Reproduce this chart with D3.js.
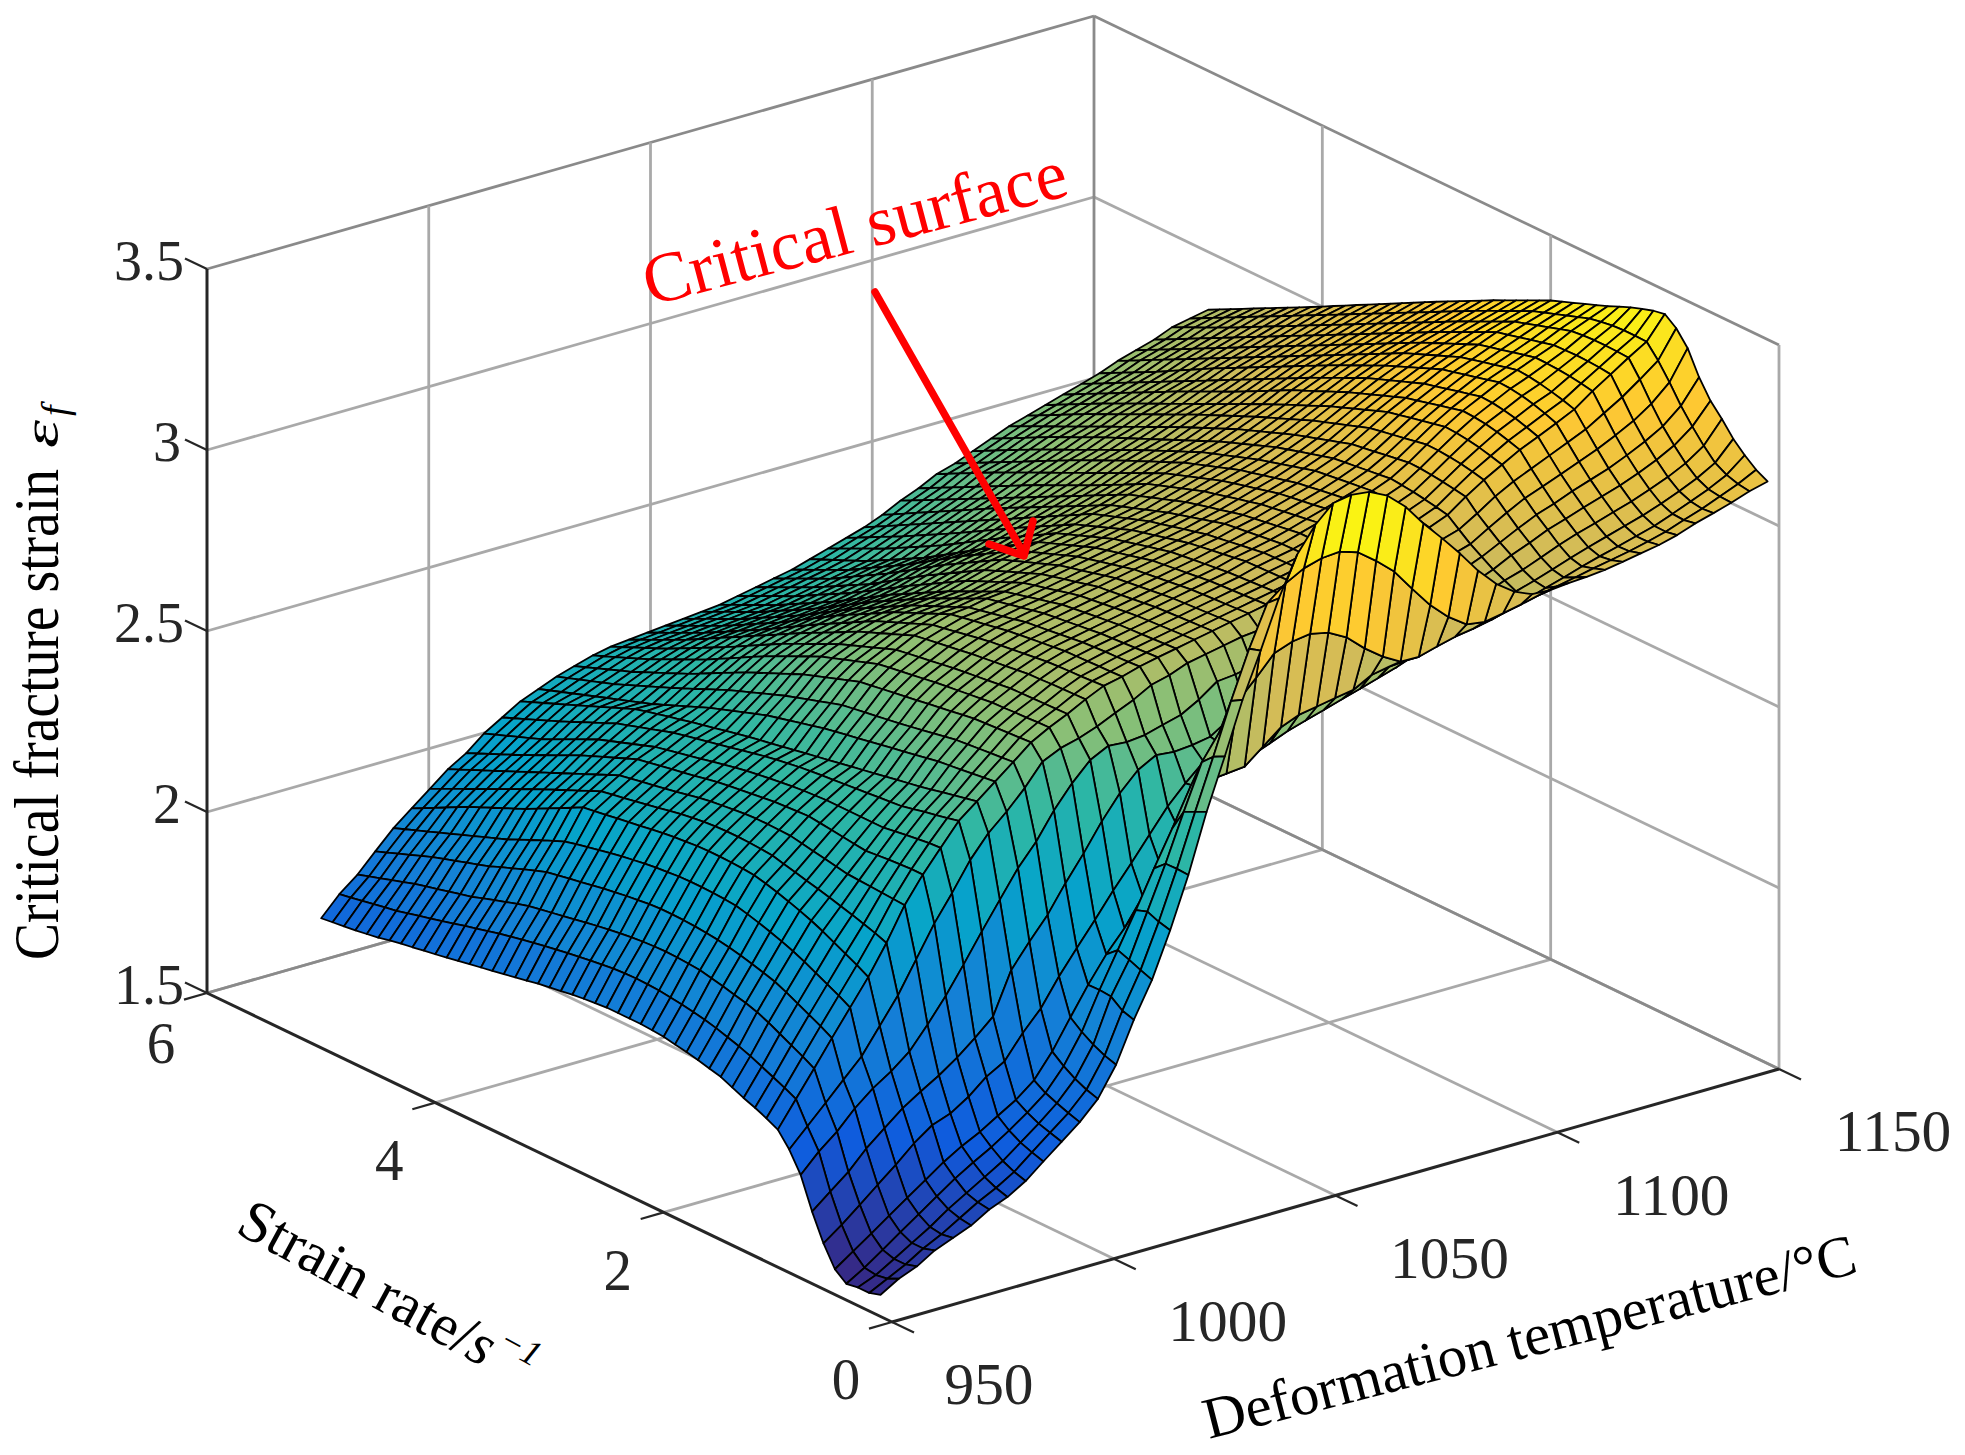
<!DOCTYPE html>
<html>
  <head>
    <meta charset="utf-8" />
    <title>Critical surface</title>
    <script src="https://d3js.org/d3.v7.min.js"></script>
    <style>
        body { margin: 0; background: #fff; }
        text { font-family: "Liberation Serif", serif; }
    </style>
  </head>
  <body>
    <svg id="chart" width="1965" height="1455"></svg>
    <script>
        var tempTicks = [950, 1000, 1050, 1100, 1150];
        var rateTicks = [0, 2, 4, 6];
        var strainTicks = [1.5, 2, 2.5, 3, 3.5];
        var strainLabels = ["1.5", "2", "2.5", "3", "3.5"];

        var temps = [950,954.1,958.2,962.2,966.3,970.4,974.5,978.6,982.7,986.7,990.8,994.9,999,1003.1,1007.1,1011.2,1015.3,1019.4,1023.5,1027.6,1031.6,1035.7,1039.8,1043.9,1048,1052,1056.1,1060.2,1064.3,1068.4,1072.4,1076.5,1080.6,1084.7,1088.8,1092.9,1096.9,1101,1105.1,1109.2,1113.3,1117.3,1121.4,1125.5,1129.6,1133.7,1137.8,1141.8,1145.9,1150];
        var rates = [0.1,0.2,0.3,0.4,0.5,0.6,0.7,0.8,0.9,1,1.1,1.2,1.3,1.4,1.5,1.6,1.7,1.8,1.9,2,2.1,2.2,2.3,2.4,2.5,2.6,2.7,2.8,2.9,3,3.1,3.2,3.3,3.4,3.5,3.6,3.7,3.8,3.9,4,4.1,4.2,4.3,4.4,4.5,4.6,4.7,4.8,4.9,5];

        // critical strain x 1000, one row per temperature, one column per rate
        var strain = [
[1560,1550,1550,1545,1570,1626,1699,1785,1840,1880,1896,1910,1922,1936,1950,1958,1966,1973,1979,1985,1988,1990,1990,1990,1990,1987,1984,1980,1975,1970,1965,1958,1952,1946,1940,1934,1928,1922,1916,1910,1905,1899,1894,1888,1880,1875,1870,1866,1862,1858],
[1590,1575,1570,1575,1605,1663,1740,1835,1890,1950,1966,1980,1994,2008,2020,2030,2040,2048,2054,2060,2064,2068,2070,2071,2070,2068,2064,2060,2055,2050,2045,2039,2033,2027,2020,2013,2005,1997,1989,1980,1972,1964,1956,1948,1940,1934,1928,1922,1916,1910],
[1610,1600,1600,1610,1640,1704,1780,1876,1940,2020,2038,2054,2070,2086,2100,2110,2118,2126,2133,2140,2143,2145,2146,2145,2143,2140,2136,2131,2126,2120,2114,2108,2102,2096,2090,2081,2071,2061,2051,2040,2032,2024,2016,2008,2000,1990,1980,1970,1960,1950],
[1640,1630,1630,1645,1675,1745,1830,1926,1990,2090,2108,2124,2140,2156,2170,2180,2189,2197,2204,2210,2214,2217,2219,2220,2220,2218,2214,2210,2205,2200,2194,2188,2182,2176,2170,2159,2147,2135,2123,2110,2100,2090,2080,2070,2060,2048,2036,2024,2012,2000],
[1660,1655,1660,1680,1710,1786,1872,1967,2040,2160,2178,2194,2210,2226,2240,2252,2263,2273,2282,2290,2293,2295,2296,2296,2295,2292,2289,2285,2280,2275,2269,2262,2255,2248,2240,2227,2213,2199,2185,2170,2158,2146,2134,2122,2110,2098,2086,2074,2062,2050],
[1680,1685,1695,1715,1745,1831,1913,2000,2110,2230,2248,2264,2280,2296,2310,2322,2333,2343,2352,2360,2363,2365,2366,2366,2365,2362,2359,2355,2350,2345,2340,2335,2330,2325,2320,2304,2288,2272,2256,2240,2226,2212,2198,2184,2170,2154,2138,2122,2106,2090],
[1710,1715,1725,1750,1780,1867,1945,2040,2180,2310,2322,2332,2342,2351,2360,2368,2376,2384,2392,2400,2403,2405,2406,2406,2405,2402,2398,2393,2387,2380,2374,2368,2362,2356,2350,2336,2322,2308,2294,2280,2265,2250,2235,2220,2205,2190,2175,2160,2145,2130],
[1730,1740,1755,1780,1810,1885,1975,2100,2265,2400,2402,2404,2406,2408,2410,2416,2422,2428,2434,2440,2441,2442,2442,2440,2437,2433,2429,2424,2417,2410,2404,2398,2392,2386,2380,2366,2352,2338,2324,2310,2296,2282,2268,2254,2240,2226,2212,2198,2184,2170],
[1760,1770,1785,1808,1835,1917,2010,2165,2350,2470,2470,2468,2466,2463,2460,2464,2468,2472,2476,2480,2478,2476,2474,2470,2466,2462,2458,2453,2447,2440,2434,2428,2422,2416,2410,2397,2384,2371,2358,2345,2330,2315,2300,2285,2270,2256,2242,2228,2214,2200],
[1800,1810,1822,1840,1865,1958,2050,2237,2420,2530,2528,2524,2520,2515,2510,2510,2510,2510,2510,2510,2508,2506,2503,2499,2495,2490,2485,2479,2472,2465,2458,2451,2444,2437,2430,2419,2408,2397,2386,2375,2360,2345,2330,2315,2300,2288,2276,2264,2252,2240],
[1840,1850,1860,1875,1895,1986,2095,2314,2497,2590,2583,2576,2570,2562,2555,2552,2549,2546,2543,2540,2537,2534,2531,2527,2522,2517,2511,2504,2497,2490,2483,2476,2469,2462,2455,2445,2435,2425,2415,2405,2391,2377,2363,2349,2335,2322,2309,2296,2283,2270],
[1880,1890,1902,1915,1935,2050,2209,2388,2557,2630,2623,2616,2609,2602,2595,2589,2583,2577,2571,2565,2559,2553,2547,2541,2535,2529,2523,2517,2511,2505,2498,2491,2484,2477,2470,2462,2455,2447,2439,2430,2417,2404,2391,2378,2365,2352,2339,2326,2313,2300],
[1930,1940,1955,1975,2000,2104,2273,2461,2602,2670,2666,2662,2658,2654,2650,2644,2638,2632,2626,2620,2614,2608,2602,2596,2590,2582,2574,2566,2558,2550,2539,2528,2517,2506,2495,2482,2469,2456,2443,2430,2419,2408,2397,2386,2375,2364,2353,2342,2331,2320],
[2010,2020,2035,2055,2080,2178,2333,2520,2653,2710,2707,2704,2701,2698,2695,2689,2683,2677,2671,2665,2660,2655,2650,2645,2640,2630,2620,2610,2600,2590,2578,2566,2554,2542,2530,2516,2502,2488,2474,2460,2447,2434,2421,2408,2395,2384,2373,2362,2351,2340],
[2120,2130,2154,2157,2156,2242,2406,2592,2712,2750,2748,2746,2744,2742,2740,2735,2730,2725,2720,2715,2710,2705,2700,2695,2690,2679,2668,2657,2646,2635,2621,2607,2593,2579,2565,2549,2533,2517,2501,2485,2471,2457,2443,2429,2415,2403,2391,2379,2367,2355],
[2216,2228,2241,2253,2226,2306,2474,2653,2735,2777,2776,2774,2773,2771,2770,2766,2762,2758,2754,2750,2745,2740,2735,2730,2725,2714,2703,2692,2681,2670,2655,2640,2625,2610,2595,2578,2561,2544,2527,2510,2495,2480,2465,2450,2435,2422,2409,2396,2383,2370],
[2339,2347,2360,2349,2284,2372,2548,2703,2748,2800,2799,2798,2797,2796,2795,2791,2787,2783,2779,2775,2770,2765,2760,2755,2750,2738,2726,2714,2702,2690,2675,2660,2645,2630,2615,2598,2581,2564,2547,2530,2514,2498,2482,2466,2450,2436,2422,2408,2394,2380],
[2477,2479,2478,2450,2357,2434,2612,2728,2766,2826,2825,2824,2823,2821,2820,2816,2812,2808,2804,2800,2795,2790,2785,2780,2775,2762,2749,2736,2723,2710,2694,2678,2662,2646,2630,2613,2596,2579,2562,2545,2528,2511,2494,2477,2460,2445,2430,2415,2400,2385],
[2637,2622,2607,2546,2425,2498,2662,2724,2789,2849,2847,2845,2844,2842,2840,2836,2832,2828,2824,2820,2814,2808,2802,2796,2790,2777,2764,2751,2738,2725,2708,2691,2674,2657,2640,2622,2604,2586,2568,2550,2533,2516,2499,2482,2465,2450,2435,2420,2405,2390],
[2776,2760,2730,2647,2512,2562,2689,2729,2811,2860,2859,2858,2857,2856,2855,2851,2847,2843,2839,2835,2829,2823,2817,2811,2805,2791,2777,2763,2749,2735,2718,2701,2684,2667,2650,2631,2612,2593,2574,2555,2538,2521,2504,2487,2470,2455,2440,2425,2410,2395],
[2918,2900,2800,2650,2618,2612,2684,2743,2838,2874,2872,2870,2869,2867,2865,2861,2857,2853,2849,2845,2838,2831,2824,2817,2810,2796,2782,2768,2754,2740,2723,2706,2689,2672,2655,2636,2617,2598,2579,2560,2543,2526,2509,2492,2475,2460,2445,2430,2415,2400],
[3040,3030,2870,2655,2630,2657,2688,2756,2851,2885,2883,2881,2879,2877,2875,2871,2867,2863,2859,2855,2848,2841,2834,2827,2820,2805,2790,2775,2760,2745,2728,2711,2694,2677,2660,2641,2622,2603,2584,2565,2548,2531,2514,2497,2480,2465,2450,2435,2420,2405],
[3170,3142,2920,2660,2640,2690,2697,2784,2870,2895,2893,2891,2889,2887,2885,2881,2877,2873,2869,2865,2857,2849,2841,2833,2825,2810,2795,2780,2765,2750,2733,2716,2699,2682,2665,2646,2627,2608,2589,2570,2553,2536,2519,2502,2485,2470,2455,2440,2425,2410],
[3276,3182,2974,2700,2660,2705,2729,2820,2880,2905,2903,2901,2899,2897,2895,2891,2887,2883,2879,2875,2867,2859,2851,2843,2835,2821,2807,2793,2779,2765,2747,2729,2711,2693,2675,2656,2637,2618,2599,2580,2563,2546,2529,2512,2495,2480,2465,2450,2435,2420],
[3344,3209,2992,2740,2680,2715,2745,2825,2890,2915,2913,2911,2909,2907,2905,2901,2897,2893,2889,2885,2877,2869,2861,2853,2845,2832,2819,2806,2793,2780,2762,2744,2726,2708,2690,2670,2650,2630,2610,2590,2573,2556,2539,2522,2505,2490,2475,2460,2445,2430],
[3390,3223,2999,2760,2700,2725,2760,2835,2900,2925,2923,2921,2919,2917,2915,2911,2907,2903,2899,2895,2887,2879,2871,2863,2855,2843,2831,2819,2807,2795,2777,2759,2741,2723,2705,2685,2665,2645,2625,2605,2587,2569,2551,2533,2515,2500,2485,2470,2455,2440],
[3399,3227,2988,2769,2715,2735,2770,2845,2905,2935,2933,2931,2929,2927,2925,2921,2917,2913,2909,2905,2897,2889,2881,2873,2865,2853,2841,2829,2817,2805,2787,2769,2751,2733,2715,2695,2675,2655,2635,2615,2597,2579,2561,2543,2525,2510,2495,2480,2465,2450],
[3393,3211,2961,2778,2730,2745,2780,2850,2915,2945,2943,2941,2939,2937,2935,2931,2927,2923,2919,2915,2907,2899,2891,2883,2875,2863,2851,2839,2827,2815,2796,2777,2758,2739,2720,2700,2680,2660,2640,2620,2603,2586,2569,2552,2535,2521,2507,2493,2479,2465],
[3368,3173,2916,2786,2745,2760,2795,2860,2925,2955,2953,2951,2949,2947,2945,2941,2937,2933,2929,2925,2917,2909,2901,2893,2885,2873,2861,2849,2837,2825,2807,2789,2771,2753,2735,2716,2697,2678,2659,2640,2623,2606,2589,2572,2555,2540,2525,2510,2495,2480],
[3323,3129,2879,2813,2760,2775,2810,2870,2935,2965,2964,2963,2962,2961,2960,2955,2950,2945,2940,2935,2927,2919,2911,2903,2895,2883,2871,2859,2847,2835,2818,2801,2784,2767,2750,2732,2714,2696,2678,2660,2643,2626,2609,2592,2575,2559,2543,2527,2511,2495],
[3263,3068,2851,2822,2775,2790,2825,2880,2945,2975,2974,2973,2972,2971,2970,2965,2960,2955,2950,2945,2937,2929,2921,2913,2905,2894,2883,2872,2861,2850,2833,2816,2799,2782,2765,2748,2731,2714,2697,2680,2663,2646,2629,2612,2595,2578,2561,2544,2527,2510],
[3209,3008,2850,2826,2790,2805,2840,2895,2955,2985,2984,2983,2982,2981,2980,2976,2972,2968,2964,2960,2951,2942,2933,2924,2915,2904,2893,2882,2871,2860,2844,2828,2812,2796,2780,2764,2748,2732,2716,2700,2683,2666,2649,2632,2615,2598,2581,2564,2547,2530],
[3152,2961,2864,2850,2820,2830,2860,2910,2965,2995,2995,2995,2995,2995,2995,2990,2985,2980,2975,2970,2962,2954,2946,2938,2930,2919,2908,2897,2886,2875,2859,2843,2827,2811,2795,2779,2763,2747,2731,2715,2699,2683,2667,2651,2635,2619,2603,2587,2571,2555],
[3090,2926,2877,2880,2855,2860,2885,2930,2980,3005,3006,3007,3008,3009,3010,3005,3000,2995,2990,2985,2977,2969,2961,2953,2945,2934,2923,2912,2901,2890,2874,2858,2842,2826,2810,2795,2780,2765,2750,2735,2719,2703,2687,2671,2655,2639,2623,2607,2591,2575],
[3039,2919,2885,2890,2880,2890,2910,2950,2990,3010,3013,3016,3019,3022,3025,3020,3015,3010,3005,3000,2992,2984,2976,2968,2960,2949,2938,2927,2916,2905,2890,2875,2860,2845,2830,2815,2800,2785,2770,2755,2740,2725,2710,2695,2680,2664,2648,2632,2616,2600],
[3003,2928,2895,2905,2905,2915,2935,2965,3000,3020,3025,3029,3033,3037,3040,3035,3030,3025,3020,3015,3007,2999,2991,2983,2975,2964,2953,2942,2931,2920,2906,2892,2878,2864,2850,2835,2820,2805,2790,2775,2759,2743,2727,2711,2695,2679,2663,2647,2631,2615],
[2982,2938,2908,2915,2925,2940,2960,2985,3010,3030,3037,3043,3048,3052,3055,3051,3047,3043,3039,3035,3026,3017,3008,2999,2990,2979,2968,2957,2946,2935,2921,2907,2893,2879,2865,2850,2835,2820,2805,2790,2775,2760,2745,2730,2715,2699,2683,2667,2651,2635],
[2979,2950,2925,2930,2945,2960,2980,3000,3025,3050,3057,3063,3068,3072,3075,3071,3067,3063,3059,3055,3046,3037,3028,3019,3010,2998,2986,2974,2962,2950,2936,2922,2908,2894,2880,2866,2852,2838,2824,2810,2795,2780,2765,2750,2735,2719,2703,2687,2671,2655],
[2984,2960,2940,2945,2960,2985,3005,3030,3055,3086,3092,3097,3101,3104,3105,3100,3095,3090,3085,3080,3070,3060,3050,3040,3030,3018,3006,2994,2982,2970,2956,2942,2928,2914,2900,2885,2870,2855,2840,2825,2810,2795,2780,2765,2750,2735,2720,2705,2690,2675],
[2987,2970,2955,2962,2980,3005,3030,3058,3088,3118,3126,3132,3136,3139,3140,3134,3128,3122,3116,3110,3099,3088,3077,3066,3055,3042,3029,3016,3003,2990,2976,2962,2948,2934,2920,2905,2890,2875,2860,2845,2830,2815,2800,2785,2770,2754,2738,2722,2706,2690],
[2992,2981,2971,2979,3000,3027,3053,3084,3115,3146,3155,3163,3169,3173,3175,3168,3161,3154,3147,3140,3128,3116,3104,3092,3080,3066,3052,3038,3024,3010,2995,2980,2965,2950,2935,2920,2905,2890,2875,2860,2845,2830,2815,2800,2785,2769,2753,2737,2721,2705],
[3000,2990,2985,2995,3017,3043,3070,3102,3136,3173,3183,3192,3199,3203,3205,3197,3189,3181,3173,3165,3153,3141,3129,3117,3105,3091,3077,3063,3049,3035,3019,3003,2987,2971,2955,2940,2925,2910,2895,2880,2864,2848,2832,2816,2800,2784,2768,2752,2736,2720],
[3009,3000,2998,3010,3032,3060,3090,3122,3158,3195,3206,3216,3223,3228,3230,3222,3214,3206,3198,3190,3178,3166,3154,3142,3130,3115,3100,3085,3070,3055,3039,3023,3007,2991,2975,2959,2943,2927,2911,2895,2879,2863,2847,2831,2815,2799,2783,2767,2751,2735],
[3018,3012,3012,3025,3048,3076,3107,3142,3180,3218,3230,3240,3248,3253,3255,3247,3239,3231,3223,3215,3202,3189,3176,3163,3150,3135,3120,3105,3090,3075,3059,3043,3027,3011,2995,2979,2963,2947,2931,2915,2898,2881,2864,2847,2830,2814,2798,2782,2766,2750],
[3031,3025,3026,3040,3063,3092,3124,3162,3202,3242,3252,3260,3267,3272,3275,3267,3259,3251,3243,3235,3222,3209,3196,3183,3170,3154,3138,3122,3106,3090,3074,3058,3042,3026,3010,2994,2978,2962,2946,2930,2914,2898,2882,2866,2850,2834,2818,2802,2786,2770],
[3049,3043,3045,3058,3082,3112,3146,3186,3232,3278,3284,3289,3292,3294,3295,3287,3279,3271,3263,3255,3241,3227,3213,3199,3185,3169,3153,3137,3121,3105,3089,3073,3057,3041,3025,3009,2993,2977,2961,2945,2929,2913,2897,2881,2865,2849,2833,2817,2801,2785],
[3063,3060,3065,3078,3102,3134,3170,3212,3262,3310,3314,3316,3317,3316,3315,3307,3299,3291,3283,3275,3260,3245,3230,3215,3200,3184,3168,3152,3136,3120,3104,3088,3072,3056,3040,3024,3008,2992,2976,2960,2944,2928,2912,2896,2880,2864,2848,2832,2816,2800],
[3078,3080,3085,3100,3126,3160,3198,3245,3297,3342,3344,3345,3345,3343,3340,3330,3320,3310,3300,3290,3275,3260,3245,3230,3215,3199,3183,3167,3151,3135,3119,3103,3087,3071,3055,3039,3023,3007,2991,2975,2959,2943,2927,2911,2895,2880,2865,2850,2835,2820],
[3095,3100,3110,3128,3160,3198,3240,3290,3335,3372,3373,3373,3371,3366,3360,3349,3338,3327,3316,3305,3290,3275,3260,3245,3230,3214,3198,3182,3166,3150,3134,3118,3102,3086,3070,3054,3038,3022,3006,2990,2974,2958,2942,2926,2910,2894,2878,2862,2846,2830],
[3108,3125,3150,3180,3220,3255,3305,3370,3410,3434,3428,3418,3407,3394,3380,3368,3356,3344,3332,3320,3305,3290,3275,3260,3245,3229,3213,3197,3181,3165,3149,3132,3116,3099,3083,3066,3050,3033,3017,3000,2984,2968,2952,2936,2920,2904,2888,2872,2856,2840]
        ];

        var parula = ["#352a87", "#0f5cdd", "#1481d6", "#06a4ca", "#2eb7a4", "#87bf77", "#d1bb59", "#fec832", "#f9fb0e"];

        var svg = d3.select("#chart");

        // the axes box is an oblique projection, so three scales and three screen vectors are enough
        var origin = {x: 892, y: 1322};
        var tempVec = {x: 887, y: -253};
        var rateVec = {x: -685, y: -329};
        var strainLen = -724;

        var tempScale = d3.scaleLinear().domain([950, 1150]).range([0, 1]);
        var rateScale = d3.scaleLinear().domain([0, 6]).range([0, 1]);
        var strainScale = d3.scaleLinear().domain([1.5, 3.5]).range([0, 1]);

        function project(t, r, z) {
            var a = tempScale(t), b = rateScale(r), c = strainScale(z);
            return [origin.x + a * tempVec.x + b * rateVec.x,
                    origin.y + a * tempVec.y + b * rateVec.y + c * strainLen];
        }

        var colorStops = parula.map(function(d, i) { return i / (parula.length - 1); });
        var color = d3.scaleLinear()
            .domain(colorStops.map(d3.scaleLinear().range([1.545, 3.434])))
            .range(parula)
            .interpolate(d3.interpolateRgb);

        function seg(g, a, b, stroke, w) {
            g.append("line")
                .attr("x1", a[0]).attr("y1", a[1])
                .attr("x2", b[0]).attr("y2", b[1])
                .attr("stroke", stroke).attr("stroke-width", w);
        }

        // walls and floor
        var grid = svg.append("g");
        var gridColor = "#a9a9a9", boxColor = "#8a8a8a", gridWidth = 2.8;

        strainTicks.forEach(function(z) {
            var c = z === 3.5 ? boxColor : gridColor;
            seg(grid, project(950, 6, z), project(1150, 6, z), c, gridWidth);
            seg(grid, project(1150, 6, z), project(1150, 0, z), c, gridWidth);
        });
        tempTicks.forEach(function(t) {
            if (t !== 950) seg(grid, project(t, 6, 1.5), project(t, 6, 3.5), t === 1150 ? boxColor : gridColor, gridWidth);
            if (t !== 950 && t !== 1150) seg(grid, project(t, 0, 1.5), project(t, 6, 1.5), gridColor, gridWidth);
        });
        rateTicks.forEach(function(r) {
            if (r !== 6) seg(grid, project(1150, r, 1.5), project(1150, r, 3.5), gridColor, gridWidth);
            if (r !== 0 && r !== 6) seg(grid, project(950, r, 1.5), project(1150, r, 1.5), gridColor, gridWidth);
        });
        seg(grid, project(950, 6, 1.5), project(1150, 6, 1.5), boxColor, gridWidth);
        seg(grid, project(1150, 6, 1.5), project(1150, 0, 1.5), boxColor, gridWidth);

        // surface, painted from the back corner to the front one
        var cells = [];
        for (var i = temps.length - 2; i >= 0; i--) {
            for (var j = rates.length - 2; j >= 0; j--) {
                cells.push({i: i, j: j});
            }
        }
        function vertex(i, j) {
            return project(temps[i], rates[j], strain[i][j] / 1000);
        }
        svg.append("g").selectAll("path")
            .data(cells)
            .enter().append("path")
            .attr("d", function(d) {
                return "M" + [vertex(d.i, d.j), vertex(d.i + 1, d.j), vertex(d.i + 1, d.j + 1), vertex(d.i, d.j + 1)].join("L") + "Z";
            })
            .attr("fill", function(d) { return color(strain[d.i][d.j] / 1000); })
            .attr("stroke", "#000")
            .attr("stroke-width", 1.8)
            .attr("stroke-linejoin", "round");

        // front axes
        var axes = svg.append("g");
        var axisColor = "#262626";
        seg(axes, project(950, 0, 1.5), project(1150, 0, 1.5), axisColor, 3);
        seg(axes, project(950, 0, 1.5), project(950, 6, 1.5), axisColor, 3);
        seg(axes, project(950, 6, 1.5), project(950, 6, 3.5), axisColor, 3);

        function tickLabel(x, y, s, size, sx) {
            axes.append("text")
                .attr("transform", "translate(" + x + "," + y + ") scale(" + sx + ",1)")
                .attr("text-anchor", "middle")
                .attr("dy", "0.34em")
                .attr("font-size", size)
                .attr("fill", axisColor)
                .text(s);
        }

        tempTicks.forEach(function(t) {
            var p = project(t, 0, 1.5);
            seg(axes, p, [p[0] + 22, p[1] + 10.6], axisColor, 2.2);
            tickLabel(p[0] + (t === 950 ? 97 : 114), p[1] + 62, String(t), 60, 0.99);
        });
        rateTicks.forEach(function(r) {
            var p = project(950, r, 1.5);
            seg(axes, p, [p[0] - 23, p[1] + 6.6], axisColor, 2.2);
            tickLabel(p[0] - 46, p[1] + (r === 6 ? 50 : 57), String(r), 60, 0.95);
        });
        strainTicks.forEach(function(z, k) {
            var p = project(950, 6, z);
            seg(axes, p, [p[0] - 22, p[1] - 10.6], axisColor, 2.2);
            var wide = strainLabels[k].length > 1;
            tickLabel(wide ? 149 : 167, p[1] - 8, strainLabels[k], 56, 1);
        });

        // axis titles
        svg.append("text")
            .attr("transform", "translate(58,960) rotate(-90)")
            .attr("font-size", 64)
            .attr("textLength", 491)
            .attr("lengthAdjust", "spacingAndGlyphs")
            .text("Critical fracture strain");
        svg.append("text")
            .attr("transform", "translate(58,448) rotate(-90)")
            .attr("font-size", 50)
            .attr("font-style", "italic")
            .attr("textLength", 28)
            .attr("lengthAdjust", "spacingAndGlyphs")
            .text("ε");
        svg.append("text")
            .attr("transform", "translate(68,416) rotate(-90)")
            .attr("font-size", 38)
            .attr("font-style", "italic")
            .text("f");

        var rateTitle = svg.append("text")
            .attr("transform", "translate(234,1232) rotate(28.5)")
            .attr("font-size", 59);
        rateTitle.append("tspan").text("Strain rate/");
        rateTitle.append("tspan").attr("font-style", "italic").text("s");
        rateTitle.append("tspan").attr("font-size", 36).attr("dy", -24).attr("dx", 2).attr("font-style", "italic").text("−1");

        svg.append("text")
            .attr("transform", "translate(1209,1439) rotate(-14.4)")
            .attr("font-size", 58.5)
            .text("Deformation temperature/°C");

        // annotation
        svg.append("text")
            .attr("transform", "translate(650,306) rotate(-14.8)")
            .attr("font-size", 71)
            .attr("fill", "#ff0000")
            .text("Critical surface");

        var arrow = svg.append("g")
            .attr("fill", "none")
            .attr("stroke", "#ff0000")
            .attr("stroke-width", 7.5)
            .attr("stroke-linecap", "round")
            .attr("stroke-linejoin", "round");
        arrow.append("path").attr("d", "M875,292L1024,554");
        arrow.append("path").attr("d", "M1033,521L1024,556L989,544");
    </script>
  </body>
</html>
